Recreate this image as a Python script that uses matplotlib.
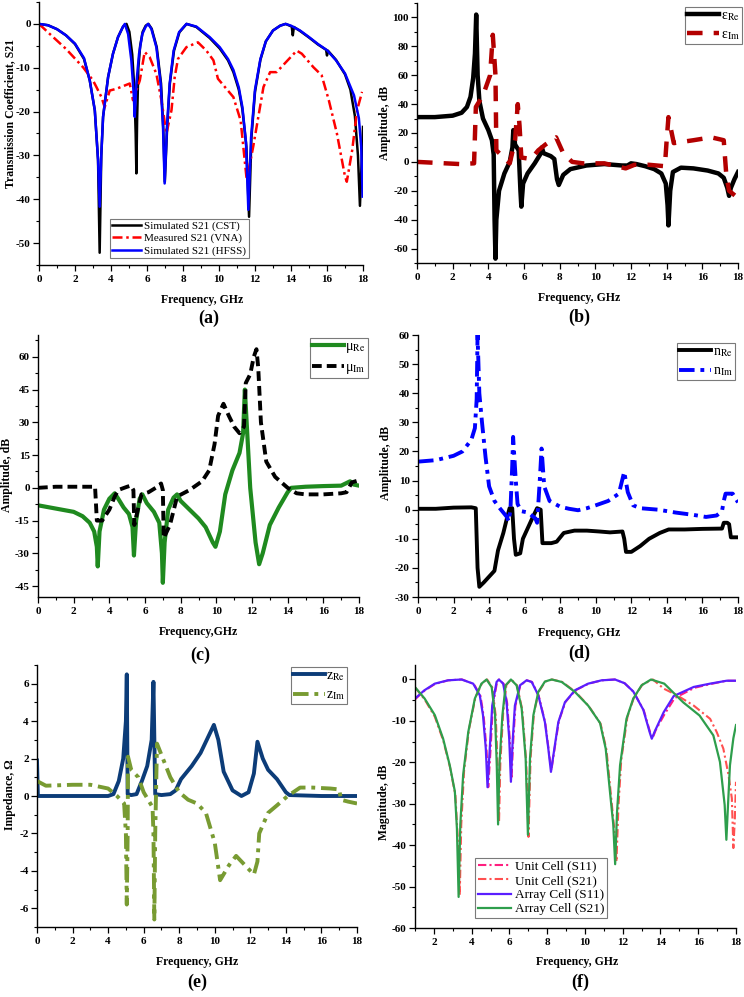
#!/usr/bin/env python
"""Six-panel metamaterial characterisation figure (S21, eps, mu, n, z, array)."""

import matplotlib
matplotlib.use('Agg')
import matplotlib.pyplot as plt
import matplotlib.ticker as mticker


# Fonts
# -----

plt.rcParams['font.family'] = ['Liberation Serif', 'DejaVu Serif']
plt.rcParams['mathtext.fontset'] = 'stix'
plt.rcParams['axes.unicode_minus'] = False


# Data (a) transmission coefficient
# ---------------------------------

cst_x = [0, 0.5, 1.0, 1.5, 2.0, 2.5, 2.82, 3.1, 3.28, 3.37, 3.46, 3.56, 3.84,
         4.11, 4.39, 4.67, 4.86, 5.02, 5.18, 5.3, 5.37, 5.41, 5.45, 5.52,
         5.62, 5.76, 5.93, 6.08, 6.26, 6.54, 6.78, 6.9, 6.99, 7.12, 7.27,
         7.5, 7.8, 8.2, 8.74, 9.48, 10.04, 10.5, 10.8, 11.1, 11.3, 11.52,
         11.67, 11.8, 12.0, 12.3, 12.6, 13.0, 13.4, 13.7, 14.04, 14.1, 14.16,
         14.5, 15.0, 15.5, 15.95, 16.0, 16.05, 16.5, 17.0, 17.3, 17.55, 17.72,
         17.83, 17.92, 18.0]
cst_y = [0, -0.3, -1.2, -2.6, -4.6, -8.0, -12.9, -19.7, -31, -52.2, -30,
         -21.2, -12.1, -6.8, -3.0, -0.6, 0, -1.8, -7, -15, -25, -34.1, -22,
         -10, -5, -1.8, -0.4, 0, -1.1, -5.3, -13.6, -23.5, -36, -23.5, -13.6,
         -6.1, -1.9, 0, -0.7, -3.2, -5.6, -8.3, -11, -15, -19.5, -28, -44,
         -26, -15.5, -8.2, -4, -1.5, -0.4, 0, -0.6, -2.6, -0.7, -1.6, -3.1,
         -4.7, -5.9, -7.2, -6.1, -8.2, -11.5, -15, -21, -30, -41.5, -32,
         -23.5]

vna_x = [0, 0.6, 1.5, 2.45, 3.0, 3.19, 3.47, 3.65, 3.93, 4.3, 5.04, 5.22,
         5.41, 5.6, 5.87, 6.15, 6.52, 6.8, 7.08, 7.36, 7.54, 7.72, 8.19, 8.83,
         9.3, 9.69, 9.94, 10.8, 11.2, 11.54, 11.9, 12.47, 12.84, 13.2, 13.77,
         14.32, 14.6, 15.25, 15.7, 16.1, 16.55, 17.0, 17.1, 17.4, 17.67,
         17.95]
vna_y = [0, -2.3, -5.7, -9.9, -12.9, -14.4, -16.7, -19, -15.2, -14.8, -13.6,
         -17.4, -15.2, -12.9, -6.4, -7.6, -11.4, -17.4, -25, -19.7, -12.1, -8,
         -5.3, -4.2, -6.1, -8.3, -12.5, -16.7, -22, -35.6, -28, -14.4, -11,
         -11, -8.5, -6.1, -6.8, -9.9, -11.7, -17.4, -25, -34.8, -36, -28.8,
         -19.7, -15.5]

hfss_x = [0, 0.5, 1.0, 1.5, 2.0, 2.5, 2.82, 3.1, 3.28, 3.37, 3.46, 3.56,
          3.84, 4.11, 4.39, 4.67, 4.77, 4.95, 5.13, 5.26, 5.32, 5.41, 5.56,
          5.74, 5.93, 6.06, 6.24, 6.52, 6.76, 6.89, 6.98, 7.11, 7.26, 7.48,
          7.78, 8.19, 8.74, 9.48, 10.04, 10.5, 10.8, 11.1, 11.3, 11.5, 11.63,
          11.78, 12.0, 12.3, 12.6, 13.0, 13.4, 13.7, 14.0, 14.5, 15.0, 15.5,
          16.0, 16.5, 17.0, 17.5, 17.77, 17.9, 17.98]
hfss_y = [0, -0.3, -1.2, -2.6, -4.5, -7.8, -12.9, -19.7, -31, -41.7, -30,
          -21.2, -12.1, -6.8, -3.0, -0.6, 0, -2.3, -8.3, -15.9, -21.2, -13.6,
          -6.8, -2.3, -0.6, 0, -1.1, -5.3, -13.6, -23.5, -36.4, -23.5, -13.6,
          -6.1, -1.9, 0, -0.6, -3.0, -5.3, -8.0, -10.5, -14.5, -19, -27,
          -42.4, -26, -15, -8, -4, -1.5, -0.4, 0, -0.4, -1.5, -3.0, -4.6,
          -6.0, -8.3, -11.3, -16.3, -21.5, -28, -39.4]


# Data (b) permittivity
# ---------------------

eps_re_x = [0, 1, 2, 2.5, 2.8, 3.0, 3.15, 3.25, 3.32, 3.4, 3.5, 3.7, 4.0,
            4.2, 4.3, 4.35, 4.4, 4.45, 4.6, 4.9, 5.2, 5.35, 5.4, 5.5, 5.7,
            5.8, 5.85, 5.95, 6.2, 6.6, 6.9, 7.0, 7.1, 7.5, 7.7, 7.85, 7.95,
            8.2, 8.6, 9.5, 10.5, 11.5, 11.8, 12.0, 12.3, 12.8, 13.3, 13.7,
            13.95, 14.05, 14.1, 14.2, 14.35, 14.8, 15.5, 16.3, 16.9, 17.2,
            17.4, 17.5, 17.6, 17.8, 18.0]
eps_re_y = [31, 31, 32, 34, 38, 45, 58, 75, 102, 60, 42, 30, 22, 15, 5, -40,
            -67, -40, -20, -8, 0, 10, 22, 12, 8, -20, -31, -15, -8, -1, 5, 10,
            6, 4, 2, -12, -16, -9, -5, -2.5, -1.5, -2.5, -2.5, -1, -1.5, -3,
            -5, -8, -15, -30, -44, -20, -7, -4, -4.5, -6, -8, -11, -18, -23.5,
            -18, -12, -7]

eps_im_x = [0, 2.4, 3.2, 3.3, 3.7, 4.1, 4.25, 4.4, 4.45, 5.2, 5.5, 5.65,
            5.75, 5.85, 6.4, 6.8, 7.2, 7.8, 8.2, 8.7, 9.3, 10.5, 11.2, 11.7,
            12.2, 13.0, 13.9, 14.0, 14.1, 14.25, 14.4, 15.5, 16.5, 17.2,
            17.35, 17.5, 17.7, 18.0]
eps_im_y = [0, -1.5, -1, 38, 46, 60, 88, 60, 8, -1, 15, 40, 25, 3, 2, 8, 12,
            17, 6, 0, -1, -1, -3, -4.5, -2, -2, -3, 15, 31, 22, 13, 15, 17,
            15, -10, -20, -22, -25]


# Data (c) permeability
# ---------------------

mu_re_x = [0, 1, 2, 2.5, 2.9, 3.15, 3.3, 3.35, 3.45, 3.7, 4.0, 4.3, 4.5, 4.8,
           5.1, 5.3, 5.38, 5.5, 5.7, 5.85, 6.1, 6.5, 6.8, 6.95, 7.0, 7.1,
           7.3, 7.6, 7.8, 8.0, 8.5, 9.0, 9.4, 9.8, 9.95, 10.2, 10.5, 10.9,
           11.3, 11.5, 11.6, 11.7, 11.9, 12.2, 12.4, 12.6, 13.0, 13.5, 14.0,
           14.2, 15.0, 16.0, 17.0, 17.5, 17.7, 18.0]
mu_re_y = [-8, -9.5, -11, -13, -16, -20, -27, -36, -20, -10, -5, -2.5, -5,
           -9, -12, -18, -31, -15, -5, -3, -7, -11, -16, -30, -43.5, -25, -10,
           -4.5, -3, -6, -10, -14, -18, -25, -27, -20, -3, 8, 16, 25, 45, 30,
           0, -25, -35, -30, -17, -9, -2, 0, 0.5, 0.8, 1, 3, 1.5, 1]

mu_im_x = [0, 1, 2, 3.2, 3.3, 3.6, 4.0, 4.3, 4.5, 5.0, 5.2, 5.35, 5.4, 5.6,
           5.8, 6.2, 6.6, 6.9, 7.0, 7.05, 7.4, 7.8, 8.5, 9.2, 9.6, 9.9, 10.1,
           10.4, 10.7, 11.0, 11.3, 11.55, 11.65, 11.9, 12.1, 12.25, 12.35,
           12.5, 12.8, 13.3, 14.0, 14.5, 15.0, 16.0, 17.0, 17.3, 17.6, 18.0]
mu_im_y = [0, 0.5, 0.5, 0.5, -15, -15, -10, -4, -1, 0.5, 1, -1, -17, -10, -3,
           -2, 0, 2, -1, -23, -17, -4, -1, 3, 8, 20, 33, 38.5, 33, 28, 25, 28,
           48, 52, 60, 63.5, 55, 30, 12, 5, 0, -2.5, -3, -3, -2.5, -2, 2.5,
           3.5]


# Data (d) refractive index
# -------------------------

n_re_x = [0, 1, 2, 3.0, 3.25, 3.35, 3.45, 3.7, 4.0, 4.3, 4.5, 4.8, 5.0, 5.15,
          5.3, 5.4, 5.5, 5.75, 5.9, 6.2, 6.5, 6.7, 6.9, 7.0, 7.5, 7.8, 8.2,
          8.8, 9.5, 10.2, 10.8, 11.5, 11.6, 11.7, 12.0, 12.5, 13.0, 13.6,
          14.1, 15.0, 16.0, 17.1, 17.2, 17.4, 17.5, 17.6, 18.0]
n_re_y = [0.3, 0.3, 0.7, 0.8, 0.5, -20, -26.5, -25, -23, -21, -14, -8, -3,
          0.5, 0.5, -10, -15.5, -15, -10, -6, -2, 0.5, 0, -11.5, -11.5, -11,
          -8, -7.2, -7.2, -7.5, -7.8, -7.5, -10, -14.5, -14.5, -12.5, -10, -8,
          -6.8, -6.8, -6.6, -6.5, -4.5, -4.5, -5, -9.5, -9.5]

n_im_x = [0, 1, 2, 2.5, 3.0, 3.2, 3.3, 3.35, 3.45, 3.6, 3.8, 4.0, 4.3, 4.6,
          5.0, 5.1, 5.2, 5.3, 5.35, 5.5, 5.6, 5.8, 6.2, 6.6, 6.7, 6.85, 6.95,
          7.1, 7.4, 8.0, 8.5, 9.0, 9.5, 10.0, 10.7, 11.3, 11.6, 11.8, 12.1,
          12.5, 13.5, 14.5, 15.5, 16.2, 16.8, 17.1, 17.2, 17.3, 17.7, 18.0]
n_im_y = [16.5, 17, 18.5, 20, 24, 28, 38, 60, 40, 30, 18, 8, 3, 0.5, -2.5, -4,
          0, 15, 25, 10, 2, -0.5, -1, -3, -4.5, 10, 21, 8, 3, 1, 0.3, -0.2,
          0.5, 1.5, 3, 5.5, 13, 6, 1.5, 0.5, 0, -1, -1.8, -2.5, -2, -0.5, 3,
          5.5, 5.5, 2.5]


# Data (e) impedance
# ------------------

z_re_x = [0, 0.05, 1, 3, 4.0, 4.3, 4.6, 4.85, 5.0, 5.05, 5.1, 5.3, 5.6, 5.9,
          6.2, 6.45, 6.55, 6.65, 7.0, 7.5, 7.8, 8.1, 8.7, 9.2, 9.6, 9.95,
          10.2, 10.5, 11.0, 11.5, 11.9, 12.2, 12.4, 12.7, 13.0, 13.5, 14.0,
          14.2, 16, 18]
z_re_y = [1.9, 0, 0, 0, 0, 0.1, 0.8, 2, 4, 6.5, 0.1, 0.05, 0.1, 0.8, 1.6, 3,
          6.1, 0.1, 0.05, 0.1, 0.3, 0.9, 1.6, 2.3, 3.1, 3.8, 3, 1.3, 0.3, 0,
          0.2, 1.2, 2.9, 2, 1.4, 0.9, 0.2, 0.05, 0, 0]

z_im_x = [0, 0.5, 2, 3.0, 4.0, 4.5, 4.9, 5.0, 5.05, 5.1, 5.12, 5.3, 5.7, 6.0,
          6.5, 6.55, 6.6, 6.65, 6.75, 7.0, 7.5, 8.0, 8.5, 9.0, 9.5, 10.0,
          10.3, 10.8, 11.2, 11.8, 12.2, 12.4, 12.5, 13.0, 13.5, 14.1, 14.8,
          15.5, 16.5, 17.0, 17.1, 17.5, 18.0]
z_im_y = [0.8, 0.55, 0.6, 0.6, 0.4, 0, -0.4, -2, -5.8, -2, 2.1, 1.4, 1, 0.2,
          -0.6, -2, -6.6, -2, 2.8, 2.2, 1, 0.2, -0.2, -0.4, -0.9, -2.5, -4.5,
          -3.7, -3.2, -3.8, -4.2, -3.5, -2, -0.9, -0.5, 0, 0.45, 0.45, 0.4,
          0.35, -0.2, -0.3, -0.4]


# Data (f) unit cell vs array
# ---------------------------

unit_s11_x = [1.0, 1.5, 2.05, 2.75, 3.5, 4.12, 4.47, 4.64, 4.79, 4.88, 5.0,
              5.12, 5.34, 5.46, 5.7, 5.88, 6.02, 6.11, 6.2, 6.32, 6.58, 6.93,
              7.2, 7.55, 7.9, 8.08, 8.22, 8.4, 8.62, 8.97, 9.5, 10.2, 10.9,
              11.6, 12.1, 12.58, 13.12, 13.48, 13.58, 13.75, 14.2, 14.75,
              15.8, 16.65, 17.5, 18.0]
unit_s11_y = [-4.8, -2.7, -1.1, -0.2, 0, -1.1, -4, -9, -17, -26, -17, -6.5,
              -0.7, 0, -1.1, -5.7, -14.5, -24, -15, -6.3, -1.4, -0.2, -0.6,
              -3.9, -10.5, -17, -22, -16.5, -10, -5.4, -2.6, -1.0, -0.2, 0,
              -0.9, -3.0, -7.5, -13.2, -14.2, -12.2, -8.5, -4.5, -2.0, -1.1,
              -0.3, -0.3]

unit_s21_x = [1.0, 1.51, 2.05, 2.5, 2.86, 3.14, 3.26, 3.37, 3.45, 3.6, 3.86,
              4.2, 4.55, 4.82, 5.1, 5.28, 5.38, 5.45, 5.52, 5.67, 5.84, 6.1,
              6.4, 6.68, 6.89, 7.01, 7.12, 7.3, 7.56, 7.9, 8.26, 8.8, 9.5,
              10.2, 10.83, 11.14, 11.4, 11.55, 11.67, 11.77, 11.92, 12.25,
              12.6, 13.05, 13.6, 14.17, 14.87, 15.76, 16.63, 16.98, 17.33,
              17.6, 17.78, 17.86, 17.94, 18.0]
unit_s21_y = [-1.9, -4.8, -9, -14.8, -21.3, -28, -38, -52, -35, -22, -12,
              -4.3, -0.9, 0, -2.0, -9, -22, -34.5, -20, -8, -1.3, 0, -1.4,
              -7.3, -20, -38, -19, -8, -2.9, -0.5, 0, -0.6, -3.0, -6.4, -10.7,
              -17, -29, -36, -44, -31, -19.5, -9, -4.3, -1.2, 0, -2.2, -3.8,
              -6.3, -9.5, -12.7, -16.7, -23, -28.7, -40.7, -33.5, -24.7]

array_s11_x = [1.0, 1.5, 2.05, 2.75, 3.46, 4.08, 4.43, 4.6, 4.75, 4.84, 4.96,
               5.09, 5.32, 5.44, 5.67, 5.85, 5.99, 6.08, 6.17, 6.29, 6.56,
               6.91, 7.18, 7.53, 7.88, 8.06, 8.2, 8.38, 8.59, 8.94, 9.47,
               10.17, 10.88, 11.59, 12.1, 12.56, 13.09, 13.44, 13.54, 13.7,
               14.17, 14.7, 15.76, 16.63, 17.5, 18.0]
array_s11_y = [-4.6, -2.6, -1.0, -0.2, 0, -1.0, -3.8, -8.6, -16.7, -26,
               -16.7, -6.3, -0.6, 0, -1.0, -5.5, -14.3, -24.7, -15, -6.3,
               -1.4, -0.2, -0.6, -3.8, -10.3, -16.7, -22.3, -16.7, -10.3,
               -5.5, -2.6, -1.0, -0.2, 0, -0.9, -2.9, -7.3, -12.9, -14.3,
               -12.5, -7.9, -4.0, -1.8, -1.0, -0.3, -0.3]

array_s21_x = [1.0, 1.51, 2.05, 2.49, 2.84, 3.11, 3.22, 3.31, 3.4, 3.55,
               3.82, 4.17, 4.52, 4.79, 5.06, 5.24, 5.33, 5.4, 5.47, 5.63,
               5.8, 6.08, 6.38, 6.65, 6.86, 6.98, 7.09, 7.27, 7.53, 7.88,
               8.24, 8.77, 9.47, 10.17, 10.8, 11.1, 11.36, 11.5, 11.6, 11.7,
               11.86, 12.2, 12.56, 13.0, 13.5, 14.2, 15.2, 16.07, 16.8,
               17.15, 17.4, 17.49, 17.58, 17.68, 17.86, 18.0]
array_s21_y = [-1.85, -4.6, -8.6, -14.3, -20.7, -27, -36, -52.5, -35, -23,
               -12.7, -4.6, -1.0, 0, -1.85, -8.6, -20.7, -35, -20.7, -8.6,
               -1.4, 0, -1.4, -7, -19, -37.5, -19, -8.6, -3.0, -0.5, 0, -0.6,
               -3.0, -6.3, -10.5, -16.7, -28.7, -35, -44.6, -32, -20.7, -9.5,
               -4.6, -1.4, 0, -1.0, -5.5, -8.7, -13.5, -19.9, -30.3, -38.7,
               -30, -20.7, -14.2, -11]


# Layout helpers
# --------------

W, H = 744, 997


def px_axes(fig, left, top, right, bottom):
    """Add axes from pixel box (origin top left)."""
    return fig.add_axes([left/W, 1-bottom/H, (right-left)/W, (bottom-top)/H])


def px_text(fig, x, y, s, **kw):
    """Add figure text at pixel position (origin top left)."""
    return fig.text(x/W, 1-y/H, s, ha='center', va='center',
                    fontweight='bold', **kw)


def style_axes(ax, xlim, ylim, xmaj, ymaj, ymin):
    """Origin-like axes: left and bottom spines, outward ticks."""
    ax.set_xlim(*xlim)
    ax.set_ylim(*ylim)
    for side in ('top', 'right'):
        ax.spines[side].set_visible(False)
    for side in ('left', 'bottom'):
        ax.spines[side].set_linewidth(1.0)
    ax.xaxis.set_major_locator(mticker.MultipleLocator(xmaj))
    ax.xaxis.set_minor_locator(mticker.MultipleLocator(xmaj/2))
    ax.yaxis.set_major_locator(mticker.MultipleLocator(ymaj))
    ax.yaxis.set_minor_locator(mticker.MultipleLocator(ymin))
    ax.tick_params(which='major', direction='out', length=4, width=0.9,
                   labelsize=8, pad=2)
    ax.tick_params(axis='x', which='major', pad=3.5)
    ax.tick_params(which='minor', direction='out', length=2, width=0.8)
    for lab in ax.get_xticklabels() + ax.get_yticklabels():
        lab.set_fontweight('bold')


def legend(ax, fontsize, **kw):
    leg = ax.legend(fontsize=fontsize, frameon=True, fancybox=False,
                    borderaxespad=0, **kw)
    leg.get_frame().set_edgecolor('0.35')
    leg.get_frame().set_linewidth(0.8)
    return leg


# Main figure
# -----------

fig = plt.figure(figsize=(W/100, H/100), dpi=100)
dashdot = (4, 1.5, 1, 1.5)

# (a) transmission coefficient
ax = px_axes(fig, 39, 2, 363, 265)
ax.plot(cst_x, cst_y, color='k', lw=1.8, label='Simulated S21 (CST)')
ax.plot(vna_x, vna_y, color='#ff0000', lw=1.8, dashes=dashdot,
        label='Measured S21 (VNA)')
ax.plot(hfss_x, hfss_y, color='#0000ff', lw=1.8,
        label='Simulated S21 (HFSS)')
style_axes(ax, (0, 18), (-55, 5), 2, 10, 5)
legend(ax, 8, loc='lower left', bbox_to_anchor=(0.219, 0.027),
       handlelength=2.6, handletextpad=0.3, labelspacing=0.2,
       borderpad=0.2)
px_text(fig, 10, 113, 'Transmission Coefficient, S21', rotation=90,
        fontsize=8.5)
px_text(fig, 202, 300, 'Frequency, GHz', fontsize=8.5)
px_text(fig, 209, 318, '(a)', fontsize=13)

# (b) permittivity
ax = px_axes(fig, 417, 3, 738, 263)
ax.plot(eps_re_x, eps_re_y, color='k', lw=3.2, label='ε$_{\\mathrm{Re}}$')
ax.plot(eps_im_x, eps_im_y, color='#b30000', lw=3.2, dashes=(3.5, 2.5),
        label='ε$_{\\mathrm{Im}}$')
style_axes(ax, (0, 18), (-70, 110), 2, 20, 10)
legend(ax, 10, loc='upper right', bbox_to_anchor=(1.012, 0.985),
       handlelength=2.3, handletextpad=0.1, labelspacing=0.4,
       borderpad=0.15)
px_text(fig, 385, 123, 'Amplitude, dB', rotation=90, fontsize=8.5)
px_text(fig, 579, 298, 'Frequency, GHz', fontsize=8.5)
px_text(fig, 579, 317, '(b)', fontsize=13)

# (c) permeability
ax = px_axes(fig, 38, 335, 359, 597)
ax.plot(mu_re_x, mu_re_y, color='#1f8a1f', lw=3.0, label='μ$_{\\mathrm{Re}}$')
ax.plot(mu_im_x, mu_im_y, color='k', lw=2.8, dashes=(2.5, 1.3),
        label='μ$_{\\mathrm{Im}}$')
style_axes(ax, (0, 18), (-50, 70), 2, 15, 7.5)
legend(ax, 10, loc='upper right', bbox_to_anchor=(1.028, 0.989),
       handlelength=2.3, handletextpad=0.1, labelspacing=0.4,
       borderpad=0.15)
px_text(fig, 7, 475, 'Amplitude, dB', rotation=90, fontsize=8.5)
px_text(fig, 198, 632, 'Frequency,GHz', fontsize=8.5)
px_text(fig, 200, 655, '(c)', fontsize=13)

# (d) refractive index
ax = px_axes(fig, 418, 335, 738, 597)
ax.plot(n_re_x, n_re_y, color='k', lw=2.8, label='n$_{\\mathrm{Re}}$')
ax.plot(n_im_x, n_im_y, color='#0000ff', lw=2.8, dashes=dashdot,
        label='n$_{\\mathrm{Im}}$')
style_axes(ax, (0, 18), (-30, 60), 2, 10, 5)
legend(ax, 10, loc='upper right', bbox_to_anchor=(0.99, 0.969),
       handlelength=2.3, handletextpad=0.1, labelspacing=0.4,
       borderpad=0.15)
px_text(fig, 386, 463, 'Amplitude, dB', rotation=90, fontsize=8.5)
px_text(fig, 579, 633, 'Frequency, GHz', fontsize=8.5)
px_text(fig, 579, 653, '(d)', fontsize=13)

# (e) impedance
ax = px_axes(fig, 37, 665, 357, 927)
ax.plot(z_re_x, z_re_y, color='#0c3c78', lw=2.8, label='z$_{\\mathrm{Re}}$')
ax.plot(z_im_x, z_im_y, color='#789b32', lw=2.8, dashes=dashdot,
        label='z$_{\\mathrm{Im}}$')
style_axes(ax, (0, 18), (-7, 7), 2, 2, 1)
legend(ax, 10, loc='upper right', bbox_to_anchor=(0.97, 0.992),
       handlelength=2.3, handletextpad=0.1, labelspacing=0.4,
       borderpad=0.15)
px_text(fig, 10, 795, 'Impedance, Ω', rotation=90, fontsize=8.5)
px_text(fig, 197, 962, 'Frequency, GHz', fontsize=8.5)
px_text(fig, 197, 982, '(e)', fontsize=13)

# (f) unit cell versus array
ax = px_axes(fig, 415, 665, 736, 928)
ax.plot(unit_s11_x, unit_s11_y, color='#ff1f7f', lw=1.5, dashes=dashdot,
        label='Unit Cell (S11)')
ax.plot(unit_s21_x, unit_s21_y, color='#ff5050', lw=1.5, dashes=dashdot,
        label='Unit Cell (S21)')
ax.plot(array_s11_x, array_s11_y, color='#5a1eff', lw=1.6,
        label='Array Cell (S11)')
ax.plot(array_s21_x, array_s21_y, color='#2e9e4c', lw=1.6,
        label='Array Cell (S21)')
style_axes(ax, (1, 18), (-60, 3.5), 2, 10, 5)
ax.xaxis.set_major_locator(mticker.FixedLocator(range(2, 19, 2)))
ax.xaxis.set_minor_locator(mticker.FixedLocator(range(1, 18, 2)))
for lab in ax.get_xticklabels():
    lab.set_fontweight('bold')
legend(ax, 9.5, loc='lower left', bbox_to_anchor=(0.187, 0.038),
       handlelength=2.5, handletextpad=0.3, labelspacing=0.15,
       borderpad=0.2)
px_text(fig, 384, 802, 'Magnitude, dB', rotation=90, fontsize=8.5)
px_text(fig, 577, 962, 'Frequency, GHz', fontsize=8.5)
px_text(fig, 580, 982, '(f)', fontsize=13)

fig.savefig('out.png', dpi=100)
